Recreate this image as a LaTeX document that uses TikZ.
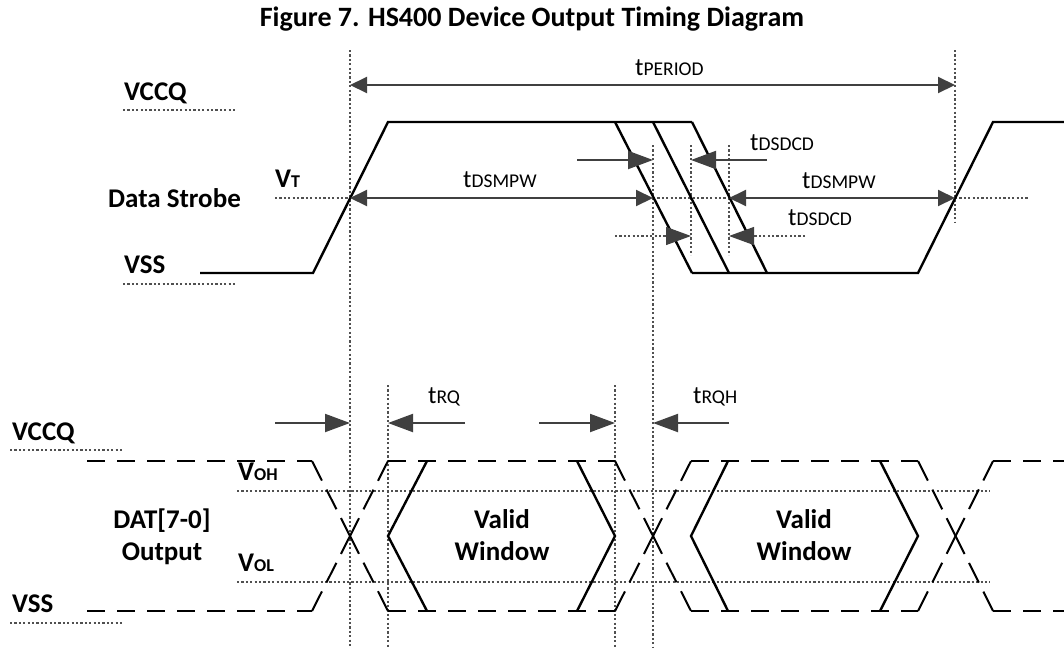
\documentclass[tikz,border=0pt]{standalone}
\usepackage{fontspec}
\setmainfont{Carlito}
\usetikzlibrary{arrows.meta}
\definecolor{arr}{HTML}{404040}
\definecolor{guidec}{HTML}{505050}
\newcommand\smc[1]{{\fontsize{19.5}{22}\selectfont #1}}
\newcommand\smb[1]{{\fontsize{18}{22}\selectfont #1}}
\begin{document}
\begin{tikzpicture}[x=1pt,y=-1pt,
  sig/.style={line width=2.4pt, line join=miter},
  dsig/.style={line width=2pt, dash pattern=on 18pt off 12pt},
  xsig/.style={line width=2pt, dash pattern=on 22pt off 10pt on 22pt off 10pt on 40pt off 10pt on 22pt off 10pt on 22pt off 10pt},
  guide/.style={draw=guidec, line width=1.1pt, dash pattern=on 2.2pt off 2.2pt},
  dimd/.style={draw=arr, line width=2pt, {Triangle[length=17pt,width=16pt]}-{Triangle[length=17pt,width=16pt]}},
  dimb/.style={draw=arr, line width=2pt, -{Triangle[length=25pt,width=18pt]}},
  dimg/.style={guide, -{Triangle[length=25pt,width=18pt,color=arr]}},
  blab/.style={font=\fontsize{27}{30}\selectfont\bfseries, inner sep=0pt, anchor=base west},
  tlab/.style={font=\fontsize{25}{28}\selectfont, inner sep=0pt, anchor=base west},
]
\useasboundingbox (0,0) rectangle (1064,648);
\fill[white] (0,0) rectangle (1064,648);

% title
\node[blab, anchor=base, font=\fontsize{28}{30}\selectfont\bfseries] (title) at (532,26) {Figure 7. HS400 Device Output Timing Diagram};

% ---------- upper labels
\node[blab] (vccq1) at (124,100) {VCCQ};
\node[blab] (ds) at (108,207) {Data Strobe};
\node[blab] (vt) at (275,187) {V\smb{T}};
\node[blab] (vss1) at (124,273) {VSS};
\draw[guide] (123,110) -- (235,110);
\draw[guide] (123,284) -- (235,284);
\draw[guide] (275,198) -- (350,198);

% vertical guides upper
\draw[guide] (350,50) -- (350,648);
\draw[guide] (955,50) -- (955,222);
\draw[guide] (653,145) -- (653,648);
\draw[guide] (691,145) -- (691,255);
\draw[guide] (729,145) -- (729,255);
\draw[guide] (653,198) -- (729,198);
\draw[guide] (955,198) -- (1028,198);

% strobe waveform
\draw[sig] (200,273) -- (313,273) -- (388,122) -- (692,122);
\draw[sig] (615,122) -- (692,273);
\draw[sig] (653,122) -- (729,273);
\draw[sig] (692,122) -- (767,273);
\draw[sig] (692,273) -- (918,273) -- (993,122) -- (1064,122);

% dimension coordinates
\coordinate (p1) at (350,85);  \coordinate (p2) at (955,85);
\coordinate (w1) at (350,198); \coordinate (w2) at (653,198);
\coordinate (w3) at (729,198); \coordinate (w4) at (955,198);
\coordinate (c1) at (577,160); \coordinate (c2) at (653,160);
\coordinate (c3) at (767,160); \coordinate (c4) at (691,160);
\coordinate (d1) at (615,236); \coordinate (d2) at (691,236);
\coordinate (d3) at (805,236); \coordinate (d4) at (729,236);

\draw[dimd] (p1) -- (p2);
\draw[dimd] (w1) -- (w2);
\draw[dimd] (w3) -- (w4);
\draw[dimb] (c1) -- (c2);
\draw[dimb] (c3) -- (c4);
\draw[dimg] (d1) -- (d2);
\draw[dimg] (d3) -- (d4);

\node[tlab] (tper) at (635,75) {t\smc{PERIOD}};
\node[tlab] (tmpw1) at (463,187) {t\smc{DSMPW}};
\node[tlab] (tmpw2) at (802,188) {t\smc{DSMPW}};
\node[tlab] (tdcd1) at (750,150) {t\smc{DSDCD}};
\node[tlab] (tdcd2) at (788,225) {t\smc{DSDCD}};

% ---------- lower labels
\node[blab] (vccq2) at (12,440) {VCCQ};
\node[blab] (vss2) at (12,612) {VSS};
\draw[guide] (10,450) -- (122,450);
\draw[guide] (10,623) -- (122,623);
\node[blab, anchor=base] (dat) at (162,528) {DAT[7-0]};
\node[blab, anchor=base] (outp) at (162,560) {Output};
\node[blab] (voh) at (238,480) {V\smb{OH}};
\node[blab] (vol) at (238,571) {V\smb{OL}};
\draw[guide] (237,491) -- (990,491);
\draw[guide] (237,582) -- (990,582);
\node[blab, anchor=base] (vw1a) at (502,528) {Valid};
\node[blab, anchor=base] (vw1b) at (502,560) {Window};
\node[blab, anchor=base] (vw2a) at (804,528) {Valid};
\node[blab, anchor=base] (vw2b) at (804,560) {Window};

\draw[guide] (388,385) -- (388,648);
\draw[guide] (615,385) -- (615,648);

% data waveform dashed
\draw[dsig] (87,461) -- (312,461);
\draw[dsig] (87,611) -- (312,611);
\draw[dsig] (388,461) -- (615,461);
\draw[dsig] (388,611) -- (615,611);
\draw[dsig] (691,461) -- (918,461);
\draw[dsig] (691,611) -- (918,611);
\draw[dsig] (993,461) -- (1064,461);
\draw[dsig] (993,611) -- (1064,611);
\draw[xsig] (312,461) -- (388,611);
\draw[xsig] (312,611) -- (388,461);
\draw[xsig] (615,461) -- (691,611);
\draw[xsig] (615,611) -- (691,461);
\draw[xsig] (918,461) -- (993,611);
\draw[xsig] (918,611) -- (993,461);
% solid window edges
\draw[sig] (427,461) -- (388,536) -- (427,611);
\draw[sig] (577,461) -- (615,536) -- (577,611);
\draw[sig] (728,461) -- (691,536) -- (728,611);
\draw[sig] (880,461) -- (918,536) -- (880,611);

% lower arrows
\coordinate (q1) at (275,423); \coordinate (q2) at (350,423);
\coordinate (q3) at (465,423); \coordinate (q4) at (388,423);
\coordinate (q5) at (539,423); \coordinate (q6) at (615,423);
\coordinate (q7) at (729,423); \coordinate (q8) at (653,423);
\draw[dimb] (q1) -- (q2);
\draw[dimb] (q3) -- (q4);
\draw[dimb] (q5) -- (q6);
\draw[dimb] (q7) -- (q8);
\node[tlab] (trq) at (428,403) {t\smc{RQ}};
\node[tlab] (trqh) at (693,403) {t\smc{RQH}};
\end{tikzpicture}
\end{document}
